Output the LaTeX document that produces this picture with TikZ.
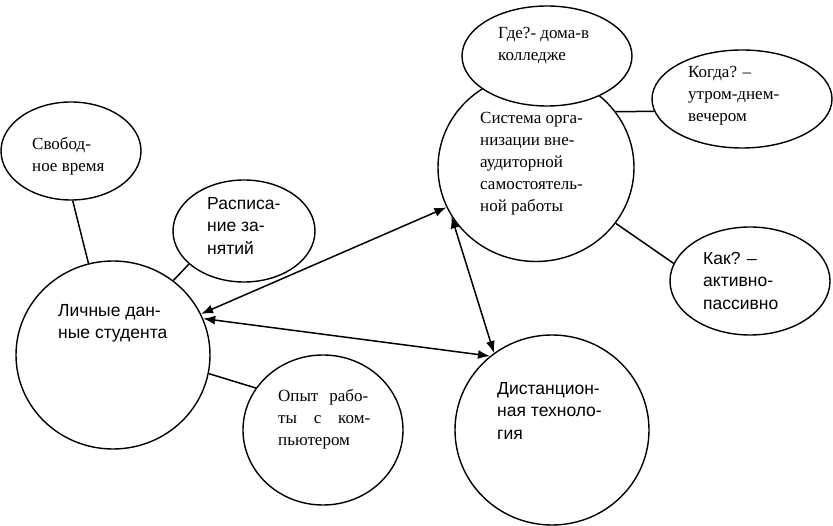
\documentclass[tikz,border=0pt]{standalone}
\usepackage{fontspec}
\setmainfont{Liberation Serif}
\setsansfont{Liberation Sans}
\usetikzlibrary{shapes.geometric,arrows.meta}

\begin{document}
\begin{tikzpicture}[x=1pt,y=-1pt,
  bubble/.style={draw,ellipse,inner sep=0pt,line width=1.4pt,fill=white},
  note/.style={anchor=north west,inner sep=0pt,align=left,font=\fontsize{17}{22}\selectfont},
  snote/.style={note,font=\sffamily\fontsize{17.5}{22.5}\selectfont},
  link/.style={line width=1.5pt},
  both/.style={line width=1.5pt,{Latex[length=12pt,width=9pt]}-{Latex[length=12pt,width=9pt]}}]

  \useasboundingbox (0,0) rectangle (833,526);

  % Bubbles
  \node[bubble,minimum width=140pt,minimum height=98pt] (svob) at (71,151) {};
  \node[bubble,minimum width=142pt,minimum height=102pt] (rasp) at (244,231) {};
  \node[bubble,minimum width=194pt,minimum height=188pt] (lich) at (113,355) {};
  \node[bubble,minimum width=160pt,minimum height=150pt] (opyt) at (323,430) {};
  \node[bubble,minimum width=196pt,minimum height=188pt] (sist) at (536,167.5) {};
  \node[bubble,minimum width=170pt,minimum height=100pt] (gde) at (547,56) {};
  \node[bubble,minimum width=180pt,minimum height=98pt] (kogda) at (742,99) {};
  \node[bubble,minimum width=160pt,minimum height=108pt] (kak) at (750,281) {};
  \node[bubble,minimum width=194pt,minimum height=190pt] (dist) at (552,430) {};

  % Texts
  \node[note] (svob-t) at (32,137) {Свобод-\\ное время};
  \node[snote] (rasp-t) at (207,197) {Расписа-\\ние за-\\нятий};
  \node[snote] (lich-t) at (58,304) {Личные дан-\\ные студента};
  \node[note] (opyt-t) at (278,389) {\makebox[90pt][s]{Опыт рабо-}\\\makebox[92pt][s]{ты с ком-}\\пьютером};
  \node[note] (gde-t) at (498,27) {Где?- дома-в\\колледже};
  \node[note] (sist-t) at (480,112) {Система орга-\\низации вне-\\аудиторной\\самостоятель-\\ной работы};
  \node[note] (kogda-t) at (688,66) {Когда? –\\утром-днем-\\вечером};
  \node[snote] (kak-t) at (703,252) {Как? –\\активно-\\пассивно};
  \node[snote] (dist-t) at (497,382) {Дистанцион-\\ная техноло-\\гия};

  % Plain links
  \draw[link] (svob.272) -- (lich.105);
  \draw[link] (rasp.211) -- (lich.51);
  \draw[link] (lich.349) -- (opyt.148);
  \draw[link] (sist.35) -- (kogda.188);
  \draw[link] (sist.325) -- (kak.167);

  % Two-way arrows
  \draw[both] (lich.25) -- (sist.204);
  \draw[both] (lich.22) -- (dist.130);
  \draw[both] (sist.210) -- (dist.127);

\end{tikzpicture}
\end{document}
